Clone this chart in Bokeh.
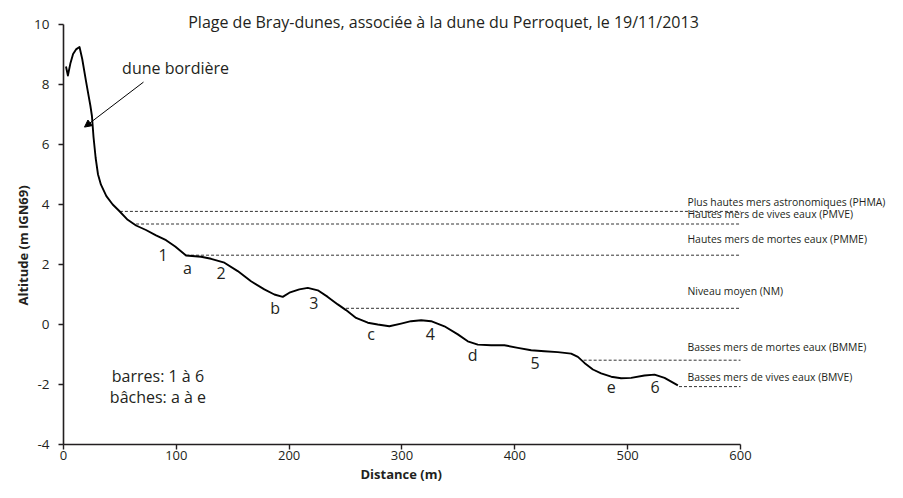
import math
from bokeh.plotting import figure
from bokeh.models import Range1d, LinearAxis, Title, Arrow, NormalHead, FixedTicker
from bokeh.embed import file_html
from bokeh.resources import INLINE
from bokeh.core.properties import value

# ---- data ----
distance = [2.2, 3.9, 6.2, 8.5, 11.1, 14.2, 16.6, 19.9, 22.3, 23.8, 25.2, 26.6, 28.5, 30.6,
            33.2, 38.0, 43.6, 49.0, 56.9, 64.3, 73.1, 82.0, 90.9, 99.0, 108.6, 121.9,
            130.8, 142.6, 154.4, 166.2, 178.0, 186.9, 194.3, 200.2, 209.0, 216.5, 225.4,
            234.2, 243.1, 250.4, 259.3, 269.7, 278.5, 288.8, 299.2, 308.0, 317.0, 325.8,
            337.6, 349.5, 358.3, 367.2, 379.0, 390.8, 402.7, 414.5, 426.2, 438.1, 449.9,
            455.9, 461.7, 469.2, 476.5, 485.4, 494.2, 503.1, 514.9, 523.8, 532.7, 544.5]
altitude = [8.6, 8.3, 8.72, 9.02, 9.17, 9.25, 8.85, 8.12, 7.61, 7.3, 6.95, 6.25, 5.55, 5.0,
            4.66, 4.28, 4.0, 3.8, 3.49, 3.3, 3.15, 2.97, 2.81, 2.6, 2.3, 2.26,
            2.19, 2.06, 1.78, 1.44, 1.17, 1.0, 0.92, 1.06, 1.17, 1.22, 1.14,
            0.92, 0.67, 0.48, 0.22, 0.06, 0.0, -0.06, 0.03, 0.11, 0.14, 0.11,
            -0.06, -0.33, -0.56, -0.67, -0.69, -0.69, -0.78, -0.86, -0.89, -0.92, -0.97,
            -1.08, -1.28, -1.5, -1.63, -1.74, -1.79, -1.78, -1.7, -1.67, -1.78, -2.03]

level_names = ["Plus hautes mers astronomiques (PHMA)",
               "Hautes mers de vives eaux (PMVE)",
               "Hautes mers de mortes eaux (PMME)",
               "Niveau moyen (NM)",
               "Basses mers de mortes eaux (BMME)",
               "Basses mers de vives eaux (BMVE)"]
level_values = [3.77, 3.35, 2.31, 0.54, -1.19, -2.07]
level_starts = [50.0, 64.3, 108.6, 250.4, 461.0, 545.5]
level_ends = [600, 600, 600, 600, 600, 600]
level_label_y = [4.08, 3.68, 2.85, 1.12, -0.76, -1.75]
level_label_x = [553, 553, 553, 553, 553, 553]

bar_names = ["1", "2", "3", "4", "5", "6"]
bar_x = [88.2, 139.6, 221.8, 325.2, 418.0, 524.4]
bar_y = [2.32, 1.72, 0.72, -0.31, -1.28, -2.08]
trough_names = ["a", "b", "c", "d", "e"]
trough_x = [109.8, 187.5, 272.6, 362.7, 485.4]
trough_y = [1.89, 0.56, -0.33, -1.0, -2.08]

x_ticks = [0, 100, 200, 300, 400, 500, 600]
y_ticks = [-4, -2, 0, 2, 4, 6, 8, 10]

FONT = "Open Sans"
INK = "#231f20"

p = figure(width=887, height=482, output_backend="svg", toolbar_location=None,
           x_range=Range1d(0, 730.3), y_range=Range1d(-4, 10.8),
           x_axis_type=None, y_axis_type=None,
           min_border_left=63, min_border_right=0, min_border_top=0, min_border_bottom=37)
p.outline_line_color = None
p.background_fill_color = "white"

def style_axis(ax):
    ax.axis_line_color = INK
    ax.axis_line_width = 1.6
    ax.major_tick_line_color = INK
    ax.major_tick_line_width = 1.4
    ax.major_tick_out = 5
    ax.major_tick_in = 0
    ax.minor_tick_line_color = None
    ax.major_label_text_font = FONT
    ax.major_label_text_font_size = "13px"
    ax.major_label_text_color = INK
    ax.major_label_standoff = 1

xa = LinearAxis(ticker=FixedTicker(ticks=x_ticks), bounds=(0, 600))
style_axis(xa)
p.add_layout(xa, "below")
ya = LinearAxis(ticker=FixedTicker(ticks=y_ticks), bounds=(-4, 10))
style_axis(ya)
ya.major_label_standoff = 9
ya.major_label_text_font_size = "13.5px"
ya.major_label_overrides = {t: str(t) for t in y_ticks}
p.add_layout(ya, "left")

p.add_layout(Title(text="Distance (m)", align="left", offset=297, standoff=0,
                   text_font=FONT, text_font_size="13px", text_font_style="bold",
                   text_color=INK), "below")
p.add_layout(Title(text="Altitude (m IGN69)", align="left", offset=139, standoff=0,
                   text_font=FONT, text_font_size="13px", text_font_style="bold",
                   text_color=INK), "left")

# reference levels
p.segment(x0=level_starts, y0=level_values, x1=level_ends, y1=level_values,
          line_color="#333333", line_width=1.0, line_dash="3 2")
p.text(x=level_label_x, y=level_label_y, text=level_names,
       text_font=value(FONT), text_font_size="10.4px", text_color=INK,
       text_align="left", text_baseline="middle")

# profile
p.line(distance, altitude, line_color="black", line_width=1.9, line_join="round")

# bar / trough labels
p.text(x=bar_x, y=bar_y, text=bar_names, text_font=value(FONT), text_font_size="16px",
       text_color=INK, text_align="center", text_baseline="middle")
p.text(x=trough_x, y=trough_y, text=trough_names, text_font=value(FONT), text_font_size="16px",
       text_color=INK, text_align="center", text_baseline="middle")

# annotations
p.text(x=[99.3], y=[8.55], text=["dune bordière"], text_font=value(FONT), text_font_size="16px",
       text_color=INK, text_align="center", text_baseline="middle")
p.add_layout(Arrow(end=NormalHead(size=7, fill_color="black", line_color="black"),
                   x_start=70.9, y_start=8.08, x_end=18.6, y_end=6.58,
                   line_color="black", line_width=1))
p.text(x=[83.7, 83.7], y=[-1.72, -2.42], text=["barres: 1 à 6", "bâches: a à e"],
       text_font=value(FONT), text_font_size="16px", text_color=INK,
       text_align="center", text_baseline="middle")
p.text(x=[336.8], y=[10.08], text=["Plage de Bray-dunes, associée à la dune du Perroquet, le 19/11/2013"],
       text_font=value(FONT), text_font_size="16px", text_color=INK,
       text_align="center", text_baseline="middle")

open("out.html", "w").write(file_html(p, INLINE))
